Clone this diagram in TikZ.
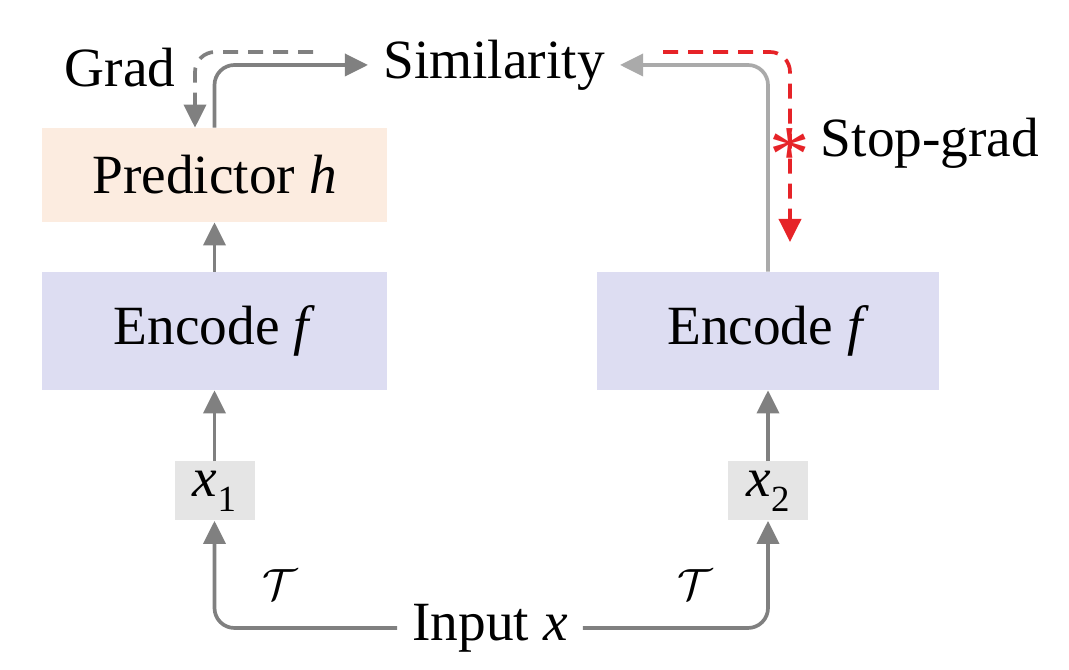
\documentclass[tikz,border=0pt]{standalone}
\usepackage{fontspec}
\setmainfont{Liberation Serif}
\usetikzlibrary{arrows.meta}
\definecolor{predfill}{RGB}{252,236,224}
\definecolor{encfill}{RGB}{221,221,242}
\definecolor{viewfill}{RGB}{229,229,229}
\definecolor{darkline}{RGB}{128,128,128}
\definecolor{lightline}{RGB}{170,170,170}
\definecolor{stopred}{RGB}{230,35,40}
\begin{document}
\begin{tikzpicture}[
	font=\fontsize{31.5}{36}\selectfont,
	block/.style={minimum width=6.9cm, minimum height=2.36cm, inner sep=0pt},
	view/.style={fill=viewfill, minimum width=1.6cm, minimum height=1.18cm, inner sep=0pt},
	flow/.style={line width=2.1pt, darkline, rounded corners=0.4cm, -{Triangle[length=0.46cm, width=0.44cm]}},
	lightflow/.style={flow, lightline},
	gradflow/.style={flow, dashed, dash pattern=on 0.3cm off 0.2cm},
	stopflow/.style={gradflow, stopred},
]
	\useasboundingbox (0, 0) rectangle (21.38, 13.4);
	% boxes
	\node[block, fill=predfill, minimum height=1.88cm] (pred) at (4.29, 9.9) {Predictor \textit{h}};
	\node[block, fill=encfill] (encl) at (4.29, 6.78) {Encode \textit{f}};
	\node[block, fill=encfill, minimum width=6.84cm] (encr) at (15.36, 6.78) {Encode \textit{f}};
	\node[view] (xa) at (4.29, 3.58) {\textit{x}\raisebox{-0.6ex}{\fontsize{21}{24}\selectfont 1}};
	\node[view] (xb) at (15.36, 3.58) {\textit{x}\raisebox{-0.6ex}{\fontsize{21}{24}\selectfont 2}};
	% labels
	\node[inner sep=0pt] (inp) at (9.8, 0.84) {Input \textit{x}};
	\node[inner sep=0pt] (sim) at (9.88, 12.1) {Similarity};
	\node (grad) at (2.4, 12.04) {Grad};
	\node (stopg) at (18.6, 10.54) {Stop-grad};
	\node at (5.6, 1.7) {$\mathcal{T}$};
	\node at (13.9, 1.7) {$\mathcal{T}$};
	\coordinate (gstart) at (6.26, 12.36);
	\coordinate (rstart) at (13.26, 12.36);
	\coordinate (rend) at (15.8, 8.56);
	% forward path
	\draw[flow] ([xshift=-0.3cm]inp.west) -| (xa.south);
	\draw[flow] (xa) -- (encl);
	\draw[flow] (encl) -- (pred);
	\draw[flow] (pred.north) |- ([xshift=-0.3cm]sim.west);
	\draw[flow] ([xshift=0.3cm]inp.east) -| (xb.south);
	\draw[flow] (xb) -- (encr);
	\draw[lightflow] (encr.north) |- ([xshift=0.3cm]sim.east);
	% gradients
	\draw[gradflow] (gstart) -| ([xshift=-0.39cm]pred.north);
	\draw[stopflow] (rstart) -| (rend);
	\node[stopred, inner sep=0pt, font=\fontsize{46}{50}\selectfont] (cut) at (15.8, 10.3) {*};
\end{tikzpicture}
\end{document}
